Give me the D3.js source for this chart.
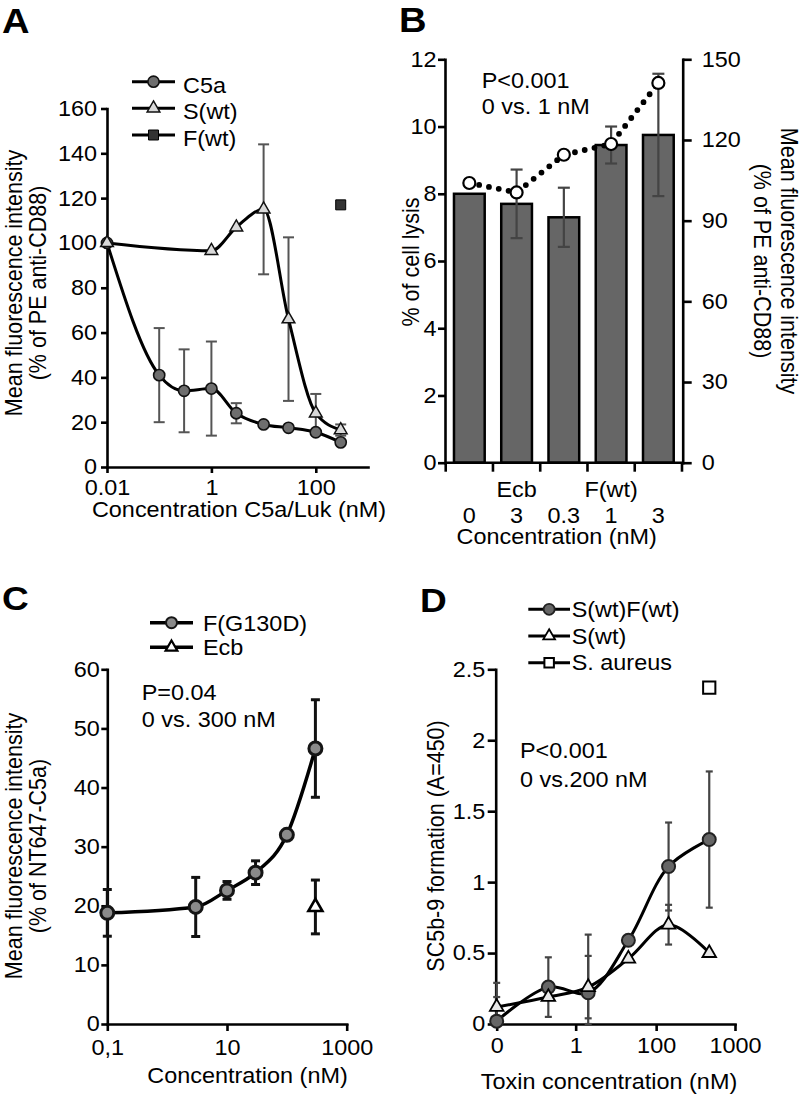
<!DOCTYPE html>
<html><head><meta charset="utf-8">
<script src="https://cdn.jsdelivr.net/npm/d3@7"></script>
<style>
body{margin:0;background:#fff}
svg{display:block;font-family:"Liberation Sans",Arial,sans-serif}
</style></head><body>
<svg id="c" width="800" height="1098"></svg>
<script>
// ---------- Panel A data ----------
const aConc = [0.01, 0.1, 0.3, 1, 3, 10, 30, 100, 300];
const aC5a = [100, 41, 34, 35, 24, 19, 17.5, 15.5, 11];
const aC5aErr = [0, 21, 18.5, 21, 4.5, 0, 0, 0, 0];
const aSConc = [0.01, 1, 3, 10, 30, 100, 300];
const aS = [100, 96.5, 107, 115, 66, 24, 16.5];
const aSErr = [0, 0, 0, 29, 36.5, 8.6, 2.5];
const aFConc = [300];
const aF = [117];
const aXTicks = [0.01, 1, 100];
const aXTickLabels = ["0.01", "1", "100"];
const aYTicks = [0, 20, 40, 60, 80, 100, 120, 140, 160];
const aLegend = ["C5a", "S(wt)", "F(wt)"];

// ---------- Panel B data ----------
const bGroupLabels = ["", "Ecb", "", "F(wt)", ""];
const bConcLabels = ["0", "3", "0.3", "1", "3"];
const bLysis = [8.0, 7.7, 7.3, 9.45, 9.75];
const bLysisErr = [0, 1.02, 0.88, 0.55, 1.82];
const bMFI = [104, 100.5, 114.5, 118.5, 141.2];
const bLeftTicks = [0, 2, 4, 6, 8, 10, 12];
const bRightTicks = [0, 30, 60, 90, 120, 150];

// ---------- Panel C data ----------
const cConc = [0.1, 3, 10, 30, 100, 300];
const cF = [18.8, 19.8, 22.6, 25.6, 32.0, 46.6];
const cFErr = [3.95, 5, 1.5, 2, 0, 8.25];
const cEcbConc = [300];
const cEcb = [19.8];
const cEcbErr = [4.55];
const cXTicks = [0.1, 10, 1000];
const cXTickLabels = ["0,1", "10", "1000"];
const cYTicks = [0, 10, 20, 30, 40, 50, 60];
const cLegend = ["F(G130D)", "Ecb"];

// ---------- Panel D data ----------
const dConc = [0, 4.5, 16, 50, 150, 450];
const dSF = [0.02, 0.26, 0.22, 0.59, 1.11, 1.30];
const dSFErr = [0.17, 0.21, 0.41, 0.02, 0.31, 0.48];
const dS = [0.12, 0.19, 0.26, 0.46, 0.70, 0.50];
const dSErr = [0.17, 0, 0.22, 0.02, 0.14, 0];
const dAureusConc = [450];
const dAureus = [2.37];
const dXTicks = [0, 11, 107, 900];
const dXTickLabels = ["0", "1", "100", "1000"];
const dYTicks = [0, 0.5, 1, 1.5, 2, 2.5];
const dYTickLabels = ["0", "0.5", "1", "1.5", "2", "2.5"];
const dLegend = ["S(wt)F(wt)", "S(wt)", "S. aureus"];

// ---------- helpers ----------
const svg = d3.select('#c');
svg.append('rect').attr('width', 800).attr('height', 1098).attr('fill', '#fff');
const FS = 21.5, SX = 1.09, AXW = 2.6;

function htext(g, x, y, s, anchor = 'start', size = FS, weight = 'normal') {
  return g.append('text').attr('transform', `translate(${x},${y}) scale(${SX},1)`)
    .attr('text-anchor', anchor).style('font-size', size + 'px').style('font-weight', weight)
    .attr('fill', '#000').text(s);
}
function vtext(g, x, y, s, angle) {
  return g.append('text').attr('transform', `translate(${x},${y}) scale(${SX},1) rotate(${angle})`)
    .attr('text-anchor', 'middle').style('font-size', FS + 'px').attr('fill', '#000').text(s);
}
function styleAxis(g) {
  g.attr('font-size', null).attr('font-family', null);
  g.select('.domain').attr('stroke', '#000').attr('stroke-width', AXW).attr('stroke-linecap', 'square');
  g.selectAll('.tick line').attr('stroke', '#000').attr('stroke-width', AXW);
  g.selectAll('.tick text').style('font-size', FS + 'px').attr('fill', '#000').each(function () {
    const t = d3.select(this); const x = +t.attr('x') || 0;
    t.attr('x', null).attr('transform', `translate(${x},0) scale(${SX},1)`);
  });
}
function errBars(g, xs, ys, es, x, y, color, w, cap) {
  xs.forEach((c, i) => {
    if (!es[i]) return;
    const X = x(c), y1 = y(ys[i] + es[i]), y2 = y(ys[i] - es[i]);
    g.append('line').attr('x1', X).attr('x2', X).attr('y1', y1).attr('y2', y2).attr('stroke', color).attr('stroke-width', w);
    [y1, y2].forEach(Y => g.append('line').attr('x1', X - cap).attr('x2', X + cap).attr('y1', Y).attr('y2', Y).attr('stroke', color).attr('stroke-width', w));
  });
}
function curve(g, xs, ys, x, y, cv, w) {
  g.append('path').datum(xs.map((c, i) => [c, ys[i]]))
    .attr('d', d3.line().x(d => x(d[0])).y(d => y(d[1])).curve(cv))
    .attr('fill', 'none').attr('stroke', '#000').attr('stroke-width', w).attr('stroke-linejoin', 'round');
}
function marker(g, type, X, Y, o) {
  if (type === 'circle') return g.append('circle').attr('cx', X).attr('cy', Y).attr('r', o.r)
    .attr('fill', o.fill).attr('stroke', o.stroke).attr('stroke-width', o.sw);
  const sym = type === 'tri' ? d3.symbolTriangle : d3.symbolSquare;
  return g.append('path').attr('d', d3.symbol(sym, o.size)()).attr('transform', `translate(${X},${Y})`)
    .attr('fill', o.fill).attr('stroke', o.stroke).attr('stroke-width', o.sw).attr('stroke-linejoin', 'miter');
}
function markers(g, type, xs, ys, x, y, o) { xs.forEach((c, i) => marker(g, type, x(c), y(ys[i]), o)); }
function legendRow(g, x1, x2, ly, tx, ty, label, type, o, lw) {
  g.append('line').attr('x1', x1).attr('x2', x2).attr('y1', ly).attr('y2', ly).attr('stroke', '#000').attr('stroke-width', lw);
  marker(g, type, (x1 + x2) / 2, ly, o);
  htext(g, tx, ty, label);
}

// ================= Panel A =================
{
  const g = svg.append('g');
  const x = d3.scaleLog().domain([0.01, 1000]).range([107, 368]);
  const y = d3.scaleLinear().domain([0, 160]).range([467, 108.5]);
  g.append('g').attr('transform', 'translate(0,467)')
    .call(d3.axisBottom(x).tickValues(aXTicks).tickFormat((d, i) => aXTickLabels[i]).tickSize(6).tickPadding(7).tickSizeOuter(0)).call(styleAxis);
  g.append('g').attr('transform', 'translate(107,0)')
    .call(d3.axisLeft(y).tickValues(aYTicks).tickSize(6).tickPadding(4).tickSizeOuter(0)).call(styleAxis);
  errBars(g, aConc, aC5a, aC5aErr, x, y, '#555', 2, 5.5);
  errBars(g, aSConc, aS, aSErr, x, y, '#555', 2, 5.5);
  curve(g, aConc, aC5a, x, y, d3.curveMonotoneX, 3);
  curve(g, aSConc, aS, x, y, d3.curveMonotoneX, 3);
  const co = { r: 5.6, fill: '#6e6e6e', stroke: '#111', sw: 1.6 };
  const to = { size: 70, fill: '#d9d9d9', stroke: '#111', sw: 1.5 };
  const so = { size: 100, fill: '#333', stroke: '#000', sw: 1 };
  markers(g, 'circle', aConc, aC5a, x, y, co);
  markers(g, 'tri', aSConc, aS, x, y, to);
  markers(g, 'sq', aFConc, aF, x, y, so);
  legendRow(g, 132, 175, 81.7, 183, 92.7, aLegend[0], 'circle', co, 3);
  legendRow(g, 132, 175, 108.3, 183, 119.3, aLegend[1], 'tri', to, 3);
  legendRow(g, 132, 175, 135, 183, 146, aLegend[2], 'sq', so, 3);
  htext(g, 239, 516.7, 'Concentration C5a/Luk (nM)', 'middle');
  vtext(g, 21.7, 283, 'Mean fluorescence intensity', -90);
  vtext(g, 46, 283, '(% of PE anti-CD88)', -90);
  htext(g, 2, 33.3, 'A', 'start', 35, 'bold');
}

// ================= Panel B =================
{
  const g = svg.append('g');
  const idx = d3.range(bLysis.length);
  const x = d3.scaleBand().domain(idx).range([445, 682.7]).paddingInner(0.35).paddingOuter(0.19);
  const yL = d3.scaleLinear().domain([0, 12]).range([462.7, 59.3]);
  const yR = d3.scaleLinear().domain([0, 150]).range([462.7, 59.3]);
  const cx = i => x(i) + x.bandwidth() / 2;
  g.selectAll('rect.bar').data(idx).join('rect').attr('class', 'bar')
    .attr('x', i => x(i)).attr('width', x.bandwidth())
    .attr('y', i => yL(bLysis[i])).attr('height', i => yL(0) - yL(bLysis[i]))
    .attr('fill', '#666').attr('stroke', '#000').attr('stroke-width', 2.5);
  errBars(g, idx, bLysis, bLysisErr, cx, yL, '#444', 2.2, 6);
  g.append('line').attr('x1', 445).attr('x2', 682.7).attr('y1', yL(0)).attr('y2', yL(0)).attr('stroke', '#000').attr('stroke-width', AXW);
  const half = x.step() / 2;
  d3.range(bLysis.length + 1).forEach(k => {
    const X = k < bLysis.length ? cx(k) - half : cx(k - 1) + half;
    g.append('line').attr('x1', X).attr('x2', X).attr('y1', yL(0)).attr('y2', yL(0) + 9).attr('stroke', '#000').attr('stroke-width', AXW);
  });
  g.append('g').attr('transform', 'translate(445,0)')
    .call(d3.axisLeft(yL).tickValues(bLeftTicks).tickSize(7).tickPadding(1.5).tickSizeOuter(0)).call(styleAxis);
  g.append('g').attr('transform', 'translate(682.7,0)')
    .call(d3.axisRight(yR).tickValues(bRightTicks).tickSize(9).tickPadding(10).tickSizeOuter(0)).call(styleAxis);
  g.append('path').datum(idx).attr('d', d3.line().x(i => cx(i)).y(i => yR(bMFI[i])))
    .attr('fill', 'none').attr('stroke', '#000').attr('stroke-width', 5.8)
    .attr('stroke-linecap', 'round').attr('stroke-dasharray', '0 10');
  idx.forEach(i => marker(g, 'circle', cx(i), yR(bMFI[i]), { r: 6, fill: '#fff', stroke: '#000', sw: 2.2 }));
  idx.forEach(i => {
    if (bGroupLabels[i]) htext(g, cx(i), 496.7, bGroupLabels[i], 'middle');
    htext(g, cx(i), 522.5, bConcLabels[i], 'middle');
  });
  htext(g, 556.7, 544, 'Concentration (nM)', 'middle');
  htext(g, 481.7, 88.3, 'P<0.001');
  htext(g, 481.7, 114, '0 vs. 1 nM');
  vtext(g, 419, 262, '% of cell lysis', -90);
  vtext(g, 780.5, 261, 'Mean fluorescence intensity', 90);
  vtext(g, 754, 261, '(% of PE anti-CD88)', 90);
  htext(g, 399, 32, 'B', 'start', 35, 'bold');
}

// ================= Panel C =================
{
  const g = svg.append('g');
  const x = d3.scaleLog().domain([0.1, 1000]).range([107.3, 346.7]);
  const y = d3.scaleLinear().domain([0, 60]).range([1024, 669.3]);
  g.append('g').attr('transform', 'translate(0,1024)')
    .call(d3.axisBottom(x).tickValues(cXTicks).tickFormat((d, i) => cXTickLabels[i]).tickSize(7).tickPadding(8.5).tickSizeOuter(0)).call(styleAxis);
  g.append('g').attr('transform', 'translate(107.3,0)')
    .call(d3.axisLeft(y).tickValues(cYTicks).tickSize(6).tickPadding(1.5).tickSizeOuter(0)).call(styleAxis);
  errBars(g, cConc, cF, cFErr, x, y, '#111', 3, 4.5);
  errBars(g, cEcbConc, cEcb, cEcbErr, x, y, '#111', 3, 4.5);
  curve(g, cConc, cF, x, y, d3.curveMonotoneX, 3.5);
  const co = { r: 6.5, fill: '#8a8a8a', stroke: '#151515', sw: 3 };
  const to = { size: 85, fill: '#fff', stroke: '#000', sw: 2.6 };
  markers(g, 'circle', cConc, cF, x, y, co);
  markers(g, 'tri', cEcbConc, cEcb, x, y, to);
  legendRow(g, 150, 193, 622.7, 203, 630.5, cLegend[0], 'circle', { r: 5.5, fill: '#8a8a8a', stroke: '#151515', sw: 2 }, 3.5);
  legendRow(g, 150, 193, 647.3, 203, 655, cLegend[1], 'tri', { size: 60, fill: '#fff', stroke: '#000', sw: 2.2 }, 3.5);
  htext(g, 141.7, 700, 'P=0.04');
  htext(g, 141.7, 726.7, '0 vs. 300 nM');
  htext(g, 247.5, 1083.3, 'Concentration (nM)', 'middle');
  vtext(g, 21.7, 846, 'Mean fluorescence intensity', -90);
  vtext(g, 46, 846, '(% of NT647-C5a)', -90);
  htext(g, 2, 610, 'C', 'start', 34, 'bold');
}

// ================= Panel D =================
{
  const g = svg.append('g');
  const x = d3.scaleSymlog().constant(1.5).domain([0, 900]).range([496.7, 735]);
  const y = d3.scaleLinear().domain([0, 2.5]).range([1024, 669.3]).clamp(true);
  g.append('g').attr('transform', 'translate(0,1024)')
    .call(d3.axisBottom(x).tickValues(dXTicks).tickFormat((d, i) => dXTickLabels[i]).tickSize(7).tickPadding(7).tickSizeOuter(0)).call(styleAxis);
  g.append('g').attr('transform', 'translate(495.7,0)')
    .call(d3.axisLeft(y).tickValues(dYTicks).tickFormat((d, i) => dYTickLabels[i]).tickSize(8).tickPadding(2.5).tickSizeOuter(0)).call(styleAxis);
  errBars(g, dConc, dSF, dSFErr, x, y, '#444', 2.2, 3.5);
  errBars(g, dConc, dS, dSErr, x, y, '#444', 2.2, 3.5);
  curve(g, dConc, dSF, x, y, d3.curveCatmullRom.alpha(0.5), 3);
  curve(g, dConc, dS, x, y, d3.curveCatmullRom.alpha(0.5), 3);
  const co = { r: 6.5, fill: '#666', stroke: '#222', sw: 2 };
  const to = { size: 80, fill: '#e8e8e8', stroke: '#000', sw: 1.8 };
  const so = { size: 150, fill: '#fff', stroke: '#000', sw: 2 };
  markers(g, 'circle', dConc, dSF, x, y, co);
  markers(g, 'tri', dConc, dS, x, y, to);
  markers(g, 'sq', dAureusConc, dAureus, x, y, so);
  legendRow(g, 528.3, 570, 609.3, 571.7, 617, dLegend[0], 'circle', { r: 5.5, fill: '#666', stroke: '#222', sw: 1.8 }, 3);
  legendRow(g, 528.3, 570, 636, 571.7, 643.5, dLegend[1], 'tri', { size: 60, fill: '#fff', stroke: '#000', sw: 1.8 }, 3);
  legendRow(g, 528.3, 570, 662.7, 571.7, 670, dLegend[2], 'sq', { size: 90, fill: '#fff', stroke: '#000', sw: 2 }, 3);
  htext(g, 520, 758.3, 'P<0.001');
  htext(g, 520, 786.7, '0 vs.200 nM');
  htext(g, 609, 1089.3, 'Toxin concentration (nM)', 'middle');
  vtext(g, 443.5, 846, 'SC5b-9 formation (A=450)', -90);
  htext(g, 420, 611.7, 'D', 'start', 34, 'bold');
}
</script>
</body></html>
